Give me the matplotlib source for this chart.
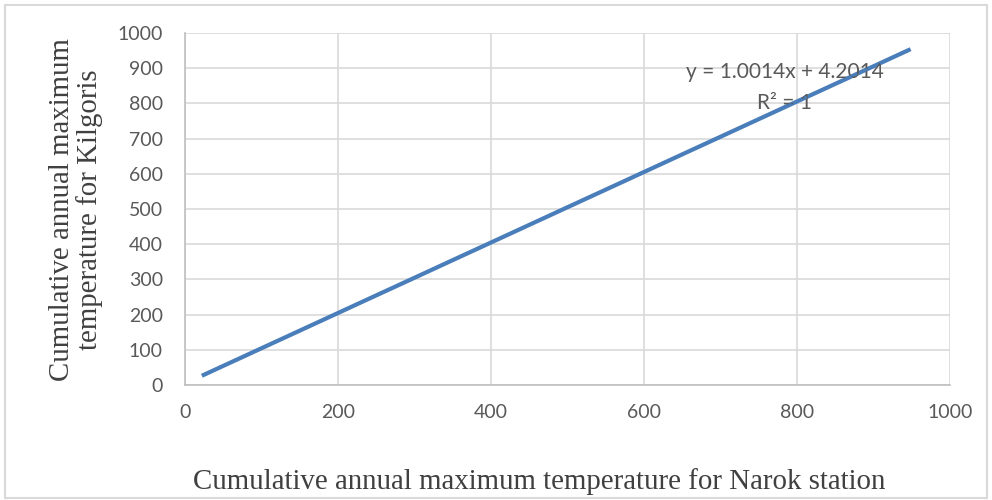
import matplotlib
matplotlib.use("Agg")
import matplotlib.pyplot as plt
from matplotlib.patches import Rectangle
import numpy as np

narok = [24.5, 49.3, 74.1, 99.0, 124.2, 149.1, 173.8, 198.6, 223.7, 248.5, 273.4, 298.0,
         322.9, 347.8, 372.6, 397.5, 422.4, 447.0, 471.9, 496.8, 521.5, 546.3, 571.2, 596.0,
         620.9, 645.7, 670.4, 695.3, 720.1, 745.0, 769.8, 794.7, 819.5, 844.3, 869.2, 894.0,
         918.8, 946.0]
kilgoris = [28.7, 53.6, 78.4, 103.4, 128.6, 153.5, 178.3, 203.1, 228.3, 253.1, 278.0, 302.6,
            327.6, 352.6, 377.4, 402.3, 427.2, 451.9, 476.8, 501.8, 526.5, 551.3, 576.2, 601.1,
            626.0, 650.9, 675.6, 700.5, 725.3, 750.3, 775.1, 800.1, 824.9, 849.7, 874.6, 899.5,
            924.3, 951.6]
xticks = [0, 200, 400, 600, 800, 1000]
yticks = [0, 100, 200, 300, 400, 500, 600, 700, 800, 900, 1000]
equation = "y = 1.0014x + 4.2014"
r2_text = "R² = 1"

blue = "#4A7EBB"
fig = plt.figure(figsize=(9.92, 5.0), dpi=100)
fig.patches.append(Rectangle((5/992, 2/500), 982/992, 493/500, transform=fig.transFigure,
                             fill=False, edgecolor="#d9d9d9", linewidth=1.5))
ax = fig.add_axes([185/992, 115/500, 765/992, 352/500])
ax.plot(narok, kilgoris, color=blue, linewidth=3, zorder=3)
coef = np.polyfit(narok, kilgoris, 1)
xs = np.array([narok[0], narok[-1]])
ax.plot(xs, np.polyval(coef, xs), color=blue, linewidth=2, linestyle=(0, (1, 1)), zorder=4)

ax.set_xlim(0, 1000)
ax.set_ylim(0, 1000)
ax.set_xticks(xticks)
ax.set_yticks(yticks)
tf = dict(family="Lato", size=14, color="#595959")
ax.set_xticklabels([str(t) for t in xticks], **tf)
ax.set_yticklabels([str(t) for t in yticks], **tf)
ax.tick_params(axis="y", length=0, pad=16)
ax.tick_params(axis="x", length=0, pad=14)
ax.grid(True, color="#d9d9d9", linewidth=1.2)
ax.set_axisbelow(True)
for s in ["top", "right"]:
    ax.spines[s].set_visible(False)
for s in ["left", "bottom"]:
    ax.spines[s].set_color("#bfbfbf")
    ax.spines[s].set_linewidth(1.2)

lf = dict(family="Liberation Serif", size=20.8, color="#404040")
fig.text(76/992, 1 - 210/500, "Cumulative annual maximum\ntemperature for Kilgoris",
         rotation=90, ha="center", va="center", linespacing=1.05, **lf)
fig.text(539/992, 1 - 482/500, "Cumulative annual maximum temperature for Narok station",
         ha="center", va="center", **lf)

ef = dict(family="Lato", size=15, color="#595959")
ax.text(784, 889, equation, ha="center", va="center", **ef)
ax.text(784, 801, r2_text, ha="center", va="center", **ef)

fig.savefig("out.png", dpi=100)
